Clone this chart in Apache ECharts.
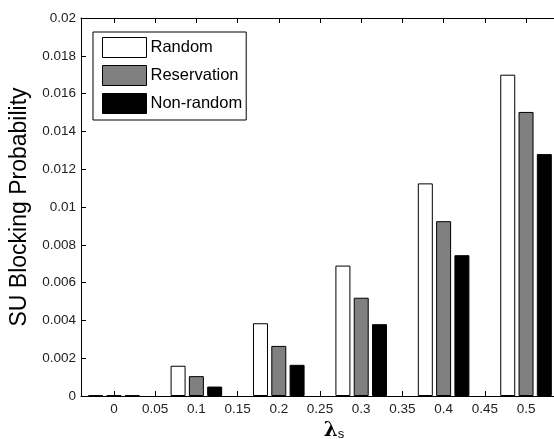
<!DOCTYPE html>
<html style="height: 100%">
<head>
    <meta charset="utf-8">
</head>
<body style="height: 100%; margin: 0; background: #fff">
    <div id="container" style="width: 554px; height: 439px"></div>
    <script src="https://cdn.jsdelivr.net/npm/echarts@6/dist/echarts.min.js"></script>
    <script>
        // lambda_s values of each bar group
        var lambdaS = [0, 0.1, 0.2, 0.3, 0.4, 0.5];
        // SU blocking probability per scheme
        var randomVals = [0.00003, 0.0016, 0.00385, 0.0069, 0.01125, 0.0170];
        var reservationVals = [0.00003, 0.00105, 0.00265, 0.0052, 0.00925, 0.01503];
        var nonRandomVals = [0.00003, 0.0005, 0.00165, 0.0038, 0.00745, 0.0128];
        var seriesNames = ['Random', 'Reservation', 'Non-random'];
        var xTicks = [0, 0.05, 0.1, 0.15, 0.2, 0.25, 0.3, 0.35, 0.4, 0.45, 0.5];

        var font = "'Liberation Sans', Arial, sans-serif";

        function pairs(vals) {
            return lambdaS.map(function (x, i) { return [x, vals[i]]; });
        }

        function barSeries(name, vals, color) {
            return {
                name: name,
                type: 'bar',
                barWidth: 15,
                barGap: '22%',
                itemStyle: { color: color, borderColor: '#000', borderWidth: 1 },
                emphasis: { disabled: true },
                data: pairs(vals)
            };
        }

        var myChart = echarts.init(document.getElementById('container'));
        var option = {
            animation: false,
            textStyle: { fontFamily: font },
            grid: { left: 81, top: 18, width: 478, height: 378, outerBoundsMode: 'none', containLabel: false },
            legend: {
                orient: 'vertical',
                left: 93,
                top: 32,
                data: seriesNames,
                icon: 'rect',
                itemWidth: 44,
                itemHeight: 20,
                itemGap: 7,
                padding: [5, 4, 6, 9],
                borderColor: '#000',
                borderWidth: 1,
                backgroundColor: '#fff',
                itemStyle: { borderColor: '#000', borderWidth: 1 },
                textStyle: { fontSize: 16.5, color: '#000', fontFamily: font, padding: [0, 0, 0, -1] },
                selectedMode: false
            },
            xAxis: [
                {
                    type: 'value',
                    min: -0.04,
                    max: 0.54,
                    position: 'bottom',
                    splitLine: { show: false },
                    axisLine: { onZero: false, lineStyle: { color: '#000', width: 1 } },
                    axisTick: { inside: true, length: 5, customValues: xTicks, lineStyle: { color: '#000' } },
                    axisLabel: { customValues: xTicks, color: '#222', fontSize: 13.5, margin: 6, fontFamily: font },
                    name: '{l|λ}{s|s}',
                    nameLocation: 'middle',
                    nameGap: 22,
                    nameTextStyle: {
                        padding: [0, 0, 0, 28],
                        rich: {
                            l: { fontSize: 20, fontFamily: "'DejaVu Serif', serif", color: '#000', fontWeight: 'bold' },
                            s: { fontSize: 13, fontFamily: font, color: '#000', verticalAlign: 'bottom', padding: [8, 0, 0, 0] }
                        }
                    }
                },
                {
                    type: 'value',
                    min: -0.04,
                    max: 0.54,
                    position: 'top',
                    splitLine: { show: false },
                    axisLine: { onZero: false, lineStyle: { color: '#000', width: 1 } },
                    axisTick: { inside: true, length: 5, customValues: xTicks, lineStyle: { color: '#000' } },
                    axisLabel: { show: false }
                }
            ],
            yAxis: [
                {
                    type: 'value',
                    min: 0,
                    max: 0.02,
                    interval: 0.002,
                    position: 'left',
                    splitLine: { show: false },
                    axisLine: { show: true, onZero: false, lineStyle: { color: '#000', width: 1 } },
                    axisTick: { show: true, inside: true, length: 5, lineStyle: { color: '#000' } },
                    axisLabel: { color: '#222', fontSize: 13.5, margin: 5, fontFamily: font },
                    name: 'SU Blocking Probability',
                    nameLocation: 'middle',
                    nameGap: 43,
                    nameTextStyle: { fontSize: 23, color: '#000', fontFamily: font }
                },
                {
                    type: 'value',
                    min: 0,
                    max: 0.02,
                    interval: 0.002,
                    position: 'right',
                    splitLine: { show: false },
                    axisLine: { show: true, onZero: false, lineStyle: { color: '#000', width: 1 } },
                    axisTick: { show: true, inside: true, length: 5, lineStyle: { color: '#000' } },
                    axisLabel: { show: false }
                }
            ],
            series: [
                barSeries(seriesNames[0], randomVals, '#ffffff'),
                barSeries(seriesNames[1], reservationVals, '#808080'),
                barSeries(seriesNames[2], nonRandomVals, '#000000')
            ]
        };
        myChart.setOption(option);
    </script>
</body>
</html>
